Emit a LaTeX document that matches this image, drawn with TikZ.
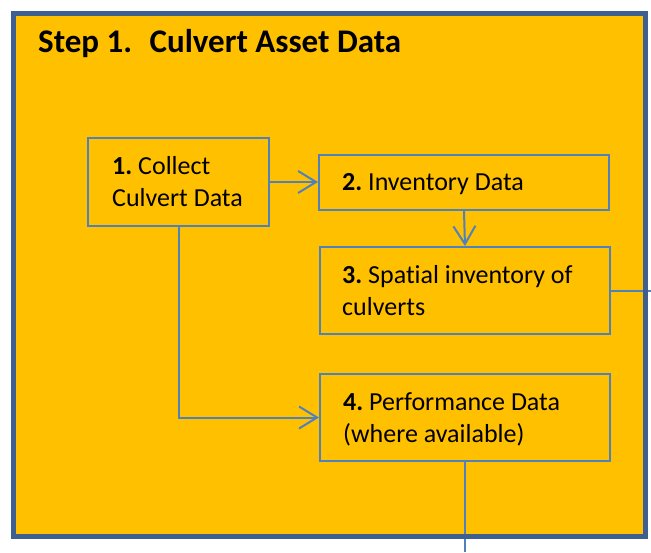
\documentclass[tikz,border=0pt]{standalone}
\usepackage{fontspec}
\setmainfont{Carlito}[Ligatures=NoCommon]
\usetikzlibrary{arrows.meta,fit}

\definecolor{panelfill}{HTML}{FFC000}
\definecolor{panelrim}{HTML}{3E6090}
\definecolor{flowblue}{HTML}{4F81BD}

\tikzset{
  stepbox/.style={draw=flowblue, line width=2pt, inner sep=0pt, rectangle},
  flow/.style={draw=flowblue, line width=2pt},
  flowarrow/.style={flow, -{Straight Barb[length=18pt,width=22pt,line width=2pt]}},
  boxtext/.style={anchor=base west, align=left, inner sep=0pt,
                  font=\fontsize{26}{32}\selectfont\frenchspacing},
}

\begin{document}
\begin{tikzpicture}[x=1pt, y=-1pt]
  \useasboundingbox (0,0) rectangle (651,552);

  % orange panel
  \fill[panelfill] (13,13) rectangle (645,536);

  % step boxes
  \node[stepbox, fit={(88,138) (269,226)}] (b1) {};
  \node[stepbox, fit={(319,155) (609,210)}] (b2) {};
  \node[stepbox, fit={(320,247) (610,334)}] (b3) {};
  \node[stepbox, fit={(320,374) (610,461)}] (b4) {};

  % box labels (base anchor sits on the last line)
  \node[boxtext] (t1) at (112,206) {\textbf{1.} Collect\\Culvert Data};
  \node[boxtext] (t2) at (342,190) {\textbf{2.} Inventory Data};
  \node[boxtext] (t3) at (342,315) {\textbf{3.} Spatial inventory of\\culverts};
  \node[boxtext] (t4) at (343,442) {\textbf{4.} Performance Data\\(where available)};

  % connectors
  \coordinate (out3) at (651,291);
  \coordinate (out4) at (465,552);
  \draw[flowarrow] (b1.east) -- (b1.east -| b2.west);
  \draw[flowarrow] (b2.south) -- (b3.north);
  \draw[flowarrow] (b1.south) |- (b4.west);
  \draw[flow] (b3.east) -- (b3.east -| out3);
  \draw[flow] (b4.south) -- (b4.south |- out4);

  % panel rim and title
  \draw[panelrim, line width=5pt] (13,13) rectangle (645,536);
  \node[anchor=base west, inner sep=0pt, font=\fontsize{33}{40}\selectfont\bfseries]
    (title) at (38,52) {Step 1.~ Culvert Asset Data};
\end{tikzpicture}
\end{document}
